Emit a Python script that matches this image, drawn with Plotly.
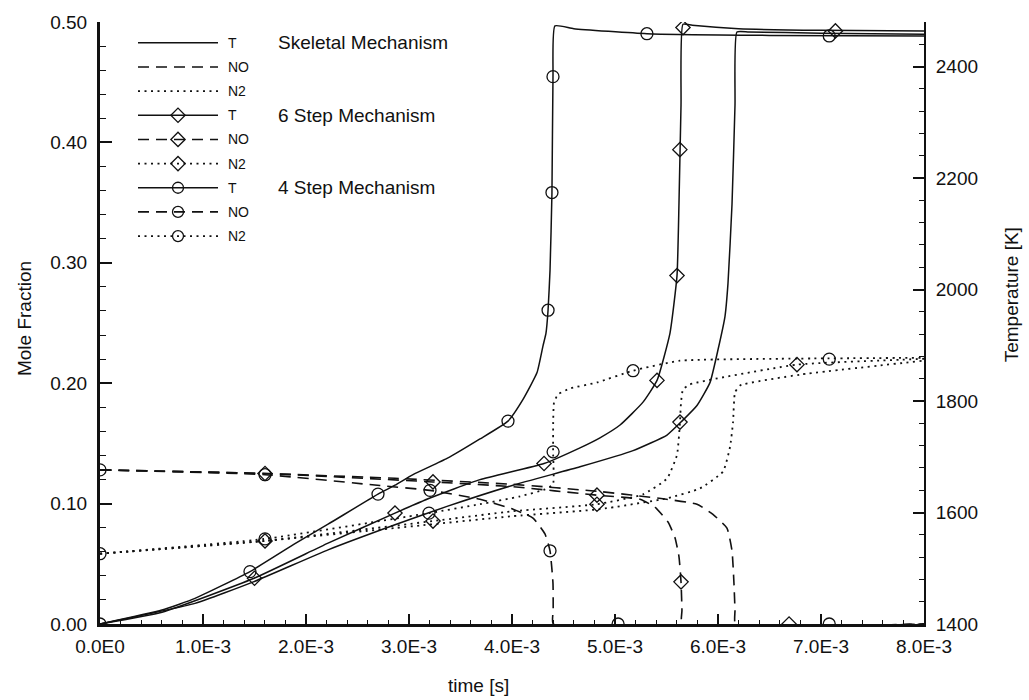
import plotly.graph_objects as go

# ---------------- data (time in ms) ----------------
# Temperature [K] (right axis)
skel_T_t = [0, 0.922, 1.495, 2.214, 2.864, 3.369, 4.010, 4.660, 5.175, 5.505, 5.650, 5.796,
            5.922, 6.000, 6.068, 6.097, 6.136, 6.165, 6.184, 6.30, 7.0, 8.0]
skel_T = [1400, 1437, 1476, 1533, 1578, 1611, 1649, 1682, 1711, 1739, 1764, 1792,
          1833, 1892, 1952, 2011, 2153, 2331, 2462, 2462, 2460, 2458]

s6_T_t = [0, 0.602, 1.495, 2.214, 2.864, 3.204, 3.689, 4.311, 4.660, 4.854, 5.049, 5.272,
          5.408, 5.534, 5.602, 5.621, 5.641, 5.660, 5.75, 6.2, 7.0, 8.0]
s6_T = [1400, 1421, 1482, 1545, 1599, 1626, 1659, 1688, 1716, 1734, 1757, 1798,
        1837, 1922, 2025, 2153, 2331, 2476, 2474, 2468, 2465, 2464]

s4_T_t = [0, 0.602, 0.922, 1.456, 1.893, 2.214, 2.699, 2.864, 3.039, 3.369, 3.689, 3.961,
          4.107, 4.243, 4.301, 4.330, 4.350, 4.369, 4.388, 4.398, 4.417, 4.6, 5.31, 6.5, 8.0]
s4_T = [1400, 1425, 1446, 1494, 1544, 1579, 1633, 1649, 1668, 1697, 1732, 1764,
        1803, 1851, 1899, 1922, 1963, 2034, 2174, 2382, 2473, 2468, 2459, 2456, 2455]

# NO mole fraction (left axis)
skel_NO_t = [0, 1.602, 2.864, 4.010, 4.854, 5.466, 5.796, 5.951, 6.087, 6.136, 6.155, 6.165, 6.170, 8.0]
skel_NO = [0.128, 0.125, 0.121, 0.116, 0.110, 0.104, 0.0995, 0.091, 0.0797, 0.0608, 0.0337, 0.0115, 0, 0]

s6_NO_t = [0, 1.602, 3.233, 4.010, 4.825, 5.243, 5.388, 5.515, 5.583, 5.621, 5.641, 5.650, 5.651, 8.0]
s6_NO = [0.128, 0.125, 0.118, 0.114, 0.107, 0.1036, 0.097, 0.0847, 0.0715, 0.056, 0.035, 0.0115, 0, 0]

s4_NO_t = [0, 1.602, 2.718, 3.204, 3.689, 4.010, 4.204, 4.320, 4.369, 4.398, 4.400, 4.401, 8.0]
s4_NO = [0.128, 0.124, 0.115, 0.111, 0.1036, 0.0954, 0.088, 0.0748, 0.0608, 0.0337, 0.0115, 0, 0]

# N2 mole fraction (left axis)
skel_N2_t = [0, 1.602, 2.864, 4.010, 4.854, 5.505, 5.825, 6.049, 6.117, 6.146, 6.165, 6.214, 6.796, 8.0]
skel_N2 = [0.0584, 0.069, 0.0797, 0.0896, 0.0954, 0.1044, 0.1126, 0.1266, 0.1471, 0.1677, 0.1923, 0.1981, 0.2071, 0.2187]

s6_N2_t = [0, 1.602, 3.233, 4.010, 4.825, 5.272, 5.505, 5.602, 5.631, 5.641, 5.660, 5.728, 6.767, 7.767, 8.0]
s6_N2 = [0.0584, 0.069, 0.0855, 0.0937, 0.0995, 0.1077, 0.1208, 0.1406, 0.1677, 0.184, 0.1948, 0.199, 0.2154, 0.2195, 0.2203]

s4_N2_t = [0, 1.602, 3.194, 3.689, 4.078, 4.320, 4.398, 4.399, 4.400, 4.408, 4.447, 4.563, 4.825, 5.175, 5.631, 6.602, 8.0]
s4_N2 = [0.0584, 0.0707, 0.0921, 0.0995, 0.106, 0.1118, 0.1159, 0.143, 0.1677, 0.184, 0.1907, 0.1956, 0.2006, 0.2104, 0.2187, 0.2203, 0.2211]

# symbol positions
s4_T_mk_t = [0, 1.456, 2.699, 3.961, 4.350, 4.388, 4.398, 5.31, 7.08]
s4_T_mk = [1400, 1494, 1633, 1764, 1963, 2174, 2382, 2459, 2455]
s6_T_mk_t = [1.50, 2.864, 4.311, 5.408, 5.602, 5.630, 5.66, 7.14]
s6_T_mk = [1482, 1599, 1688, 1837, 2025, 2251, 2470, 2464]
s4_NO_mk_t = [0, 1.602, 3.204, 4.369, 5.03, 7.08]
s4_NO_mk = [0.128, 0.124, 0.111, 0.0608, 0, 0]
s6_NO_mk_t = [1.602, 3.233, 4.825, 5.641, 6.69]
s6_NO_mk = [0.125, 0.118, 0.107, 0.035, 0]
s4_N2_mk_t = [0, 1.602, 3.194, 4.399, 5.175, 7.08]
s4_N2_mk = [0.0584, 0.0707, 0.0921, 0.143, 0.2104, 0.220]
s6_N2_mk_t = [1.602, 3.233, 4.825, 5.631, 6.767]
s6_N2_mk = [0.069, 0.0855, 0.0995, 0.1677, 0.2154]

x_ticks = [0, 1e-3, 2e-3, 3e-3, 4e-3, 5e-3, 6e-3, 7e-3, 8e-3]
x_labels = ["0.0E0", "1.0E-3", "2.0E-3", "3.0E-3", "4.0E-3", "5.0E-3", "6.0E-3", "7.0E-3", "8.0E-3"]
y_ticks = [0, 0.1, 0.2, 0.3, 0.4, 0.5]
y_labels = ["0.00", "0.10", "0.20", "0.30", "0.40", "0.50"]
y2_ticks = [1400, 1600, 1800, 2000, 2200, 2400]

legend_rows = ["T", "NO", "N2", "T", "NO", "N2", "T", "NO", "N2"]
legend_groups = ["Skeletal Mechanism", "6 Step Mechanism", "4 Step Mechanism"]

# ---------------- styles ----------------
INK = "#111111"
FONT = "Arial, Liberation Sans, Helvetica, sans-serif"
DASH = "11px,7px"
DOT = "2px,4.5px"
styles = {"T": dict(width=1.5, dash="solid"),
          "NO": dict(width=1.6, dash=DASH),
          "N2": dict(width=1.8, dash=DOT)}

# plot area in pixels (figure 1029 x 700)
PX0, PX1, PY0, PY1 = 100, 924, 16, 624


def ms(v):
    return [a * 1e-3 for a in v]


def px(x):
    return (x - PX0) / (PX1 - PX0)


def py(y):
    return (PY1 - y) / (PY1 - PY0)


fig = go.Figure()


def curve(t, v, kind, yaxis):
    fig.add_trace(go.Scatter(x=ms(t), y=v, mode="lines", yaxis=yaxis, showlegend=False,
                             line=dict(color=INK, shape="spline", smoothing=0.45, **styles[kind]),
                             hoverinfo="skip"))


def marks(t, v, symbol, yaxis, size=12):
    fig.add_trace(go.Scatter(x=ms(t), y=v, mode="markers", yaxis=yaxis, showlegend=False,
                             marker=dict(symbol=symbol, size=size, color=INK,
                                         line=dict(color=INK, width=1.3)),
                             hoverinfo="skip"))


curve(skel_T_t, skel_T, "T", "y2")
curve(s6_T_t, s6_T, "T", "y2")
curve(s4_T_t, s4_T, "T", "y2")
curve(skel_NO_t, skel_NO, "NO", "y")
curve(s6_NO_t, s6_NO, "NO", "y")
curve(s4_NO_t, s4_NO, "NO", "y")
curve(skel_N2_t, skel_N2, "N2", "y")
curve(s6_N2_t, s6_N2, "N2", "y")
curve(s4_N2_t, s4_N2, "N2", "y")

marks(s4_T_mk_t, s4_T_mk, "circle-open", "y2")
marks(s6_T_mk_t, s6_T_mk, "diamond-open", "y2", 11)
marks(s4_NO_mk_t, s4_NO_mk, "circle-open", "y")
marks(s6_NO_mk_t, s6_NO_mk, "diamond-open", "y", 11)
marks(s4_N2_mk_t, s4_N2_mk, "circle-open", "y")
marks(s6_N2_mk_t, s6_N2_mk, "diamond-open", "y", 11)

# ---------------- hand-made legend (pixel overlay axis) ----------------
LX0, LX1, LXM = 138, 218, 178
row_y0, row_dy = 37, 24.4
for i, kind in enumerate(legend_rows):
    yy = row_y0 + i * row_dy
    fig.add_trace(go.Scatter(x=[LX0, LX1], y=[yy, yy], mode="lines", xaxis="x3", yaxis="y3",
                             showlegend=False, hoverinfo="skip",
                             line=dict(color=INK, **styles[kind])))
    grp = i // 3
    if grp > 0:
        sym = "diamond-open" if grp == 1 else "circle-open"
        fig.add_trace(go.Scatter(x=[LXM], y=[yy], mode="markers", xaxis="x3", yaxis="y3",
                                 showlegend=False, hoverinfo="skip",
                                 marker=dict(symbol=sym, size=11, color=INK,
                                             line=dict(color=INK, width=1.3))))
    fig.add_annotation(x=px(226), y=py(yy), xref="paper", yref="paper", text=kind, showarrow=False,
                       xanchor="left", yanchor="middle", font=dict(size=14, color=INK, family=FONT))
for g, title in enumerate(legend_groups):
    yy = row_y0 + g * 3 * row_dy
    fig.add_annotation(x=px(276), y=py(yy), xref="paper", yref="paper", text=title, showarrow=False,
                       xanchor="left", yanchor="middle", font=dict(size=19, color=INK, family=FONT))

# axis titles
fig.add_annotation(x=px(24), y=py(316), xref="paper", yref="paper", text="Mole Fraction",
                   textangle=-90, showarrow=False, xanchor="center", yanchor="middle",
                   font=dict(size=19, color=INK, family=FONT))
fig.add_annotation(x=px(1011), y=py(292), xref="paper", yref="paper", text="Temperature [K]",
                   textangle=-90, showarrow=False, xanchor="center", yanchor="middle",
                   font=dict(size=19, color=INK, family=FONT))
fig.add_annotation(x=px(478), y=py(686), xref="paper", yref="paper", text="time [s]",
                   showarrow=False, xanchor="center", yanchor="middle",
                   font=dict(size=19, color=INK, family=FONT))

tickfont = dict(size=19, color=INK, family=FONT)
fig.update_layout(
    width=1029, height=700,
    margin=dict(l=PX0, r=1029 - PX1, t=PY0, b=700 - PY1),
    paper_bgcolor="white", plot_bgcolor="white",
    xaxis=dict(range=[0, 8e-3], tickvals=x_ticks, ticktext=x_labels, ticks="inside",
               ticklen=10, tickwidth=1.5, tickcolor=INK, showline=True, linewidth=3,
               linecolor=INK, showgrid=False, zeroline=False, tickfont=tickfont,
               ticklabelstandoff=3,
               minor=dict(dtick=0.2e-3, ticks="inside", ticklen=4, tickwidth=1.2, tickcolor=INK)),
    yaxis=dict(range=[0, 0.5], tickvals=y_ticks, ticktext=y_labels, ticks="inside",
               ticklen=12, tickwidth=1.5, tickcolor=INK, showline=True, linewidth=3,
               linecolor=INK, showgrid=False, zeroline=False, tickfont=tickfont,
               ticklabelstandoff=6,
               minor=dict(dtick=0.02, ticks="inside", ticklen=6, tickwidth=1.2, tickcolor=INK)),
    yaxis2=dict(range=[1400, 2480], overlaying="y", side="right", tickvals=y2_ticks,
                ticks="inside", ticklen=11, tickwidth=1.5, tickcolor=INK, showline=True,
                linewidth=2, linecolor=INK, showgrid=False, zeroline=False, tickfont=tickfont,
                ticklabelstandoff=6,
                minor=dict(dtick=40, ticks="inside", ticklen=5, tickwidth=1.2, tickcolor=INK)),
    xaxis3=dict(range=[PX0, PX1], overlaying="x", anchor="y3", visible=False),
    yaxis3=dict(range=[PY1, PY0], overlaying="y", anchor="x3", visible=False),
)

fig.write_html("out.html")
